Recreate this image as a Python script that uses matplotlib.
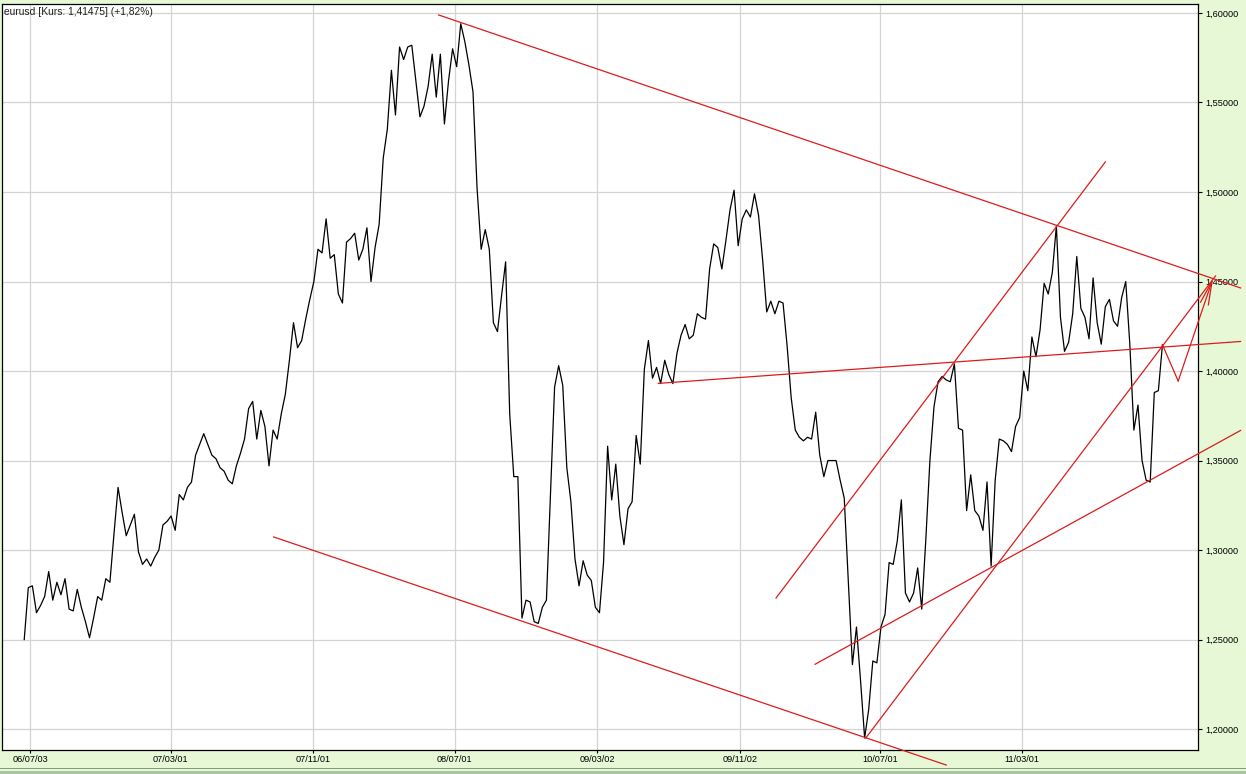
import matplotlib
matplotlib.use('Agg')
import matplotlib.pyplot as plt
import matplotlib.dates as mdates
from matplotlib.ticker import FuncFormatter
from matplotlib.patches import Rectangle
import pandas as pd

# weekly closes eurusd (fridays)
start_date = '2006-06-23'
closes = [
    1.250, 1.279, 1.280, 1.265, 1.269, 1.274, 1.288, 1.272, 1.282, 1.275,
    1.284, 1.267, 1.266, 1.278, 1.268, 1.260, 1.251, 1.262, 1.274, 1.272,
    1.284, 1.282, 1.309, 1.335, 1.321, 1.308, 1.314, 1.320, 1.299, 1.292,
    1.295, 1.291, 1.296, 1.300, 1.314, 1.316, 1.319, 1.311, 1.331, 1.328,
    1.335, 1.338, 1.353, 1.359, 1.365, 1.359, 1.353, 1.351, 1.346, 1.344,
    1.339, 1.337, 1.347, 1.354, 1.362, 1.379, 1.383, 1.362, 1.378, 1.369,
    1.347, 1.367, 1.362, 1.376, 1.387, 1.406, 1.427, 1.413, 1.417, 1.429,
    1.440, 1.450, 1.468, 1.466, 1.485, 1.463, 1.465, 1.443, 1.438, 1.472,
    1.474, 1.477, 1.462, 1.468, 1.480, 1.450, 1.469, 1.482, 1.519, 1.535,
    1.568, 1.543, 1.581, 1.574, 1.581, 1.582, 1.562, 1.542, 1.548, 1.559,
    1.577, 1.553, 1.577, 1.538, 1.562, 1.580, 1.570, 1.594, 1.584, 1.571,
    1.556, 1.502, 1.468, 1.479, 1.468, 1.427, 1.422, 1.442, 1.461, 1.376,
    1.341, 1.341, 1.262, 1.272, 1.271, 1.260, 1.259, 1.268, 1.272, 1.331,
    1.391, 1.403, 1.392, 1.346, 1.327, 1.295, 1.280, 1.294, 1.286, 1.283,
    1.268, 1.265, 1.293, 1.358, 1.328, 1.348, 1.319, 1.303, 1.323, 1.327,
    1.364, 1.348, 1.401, 1.417, 1.396, 1.402, 1.393, 1.406, 1.398, 1.393,
    1.410, 1.420, 1.426, 1.418, 1.420, 1.432, 1.430, 1.429, 1.457, 1.471,
    1.469, 1.457, 1.473, 1.490, 1.501, 1.470, 1.485, 1.490, 1.486, 1.499,
    1.487, 1.462, 1.433, 1.439, 1.432, 1.439, 1.438, 1.414, 1.385, 1.367,
    1.363, 1.361, 1.363, 1.362, 1.377, 1.353, 1.341, 1.350, 1.350, 1.350,
    1.339, 1.329, 1.283, 1.236, 1.257, 1.227, 1.195, 1.211, 1.238, 1.237,
    1.257, 1.264, 1.293, 1.292, 1.305, 1.328, 1.276, 1.271, 1.276, 1.290,
    1.267, 1.306, 1.350, 1.380, 1.394, 1.397, 1.395, 1.394, 1.404, 1.368,
    1.367, 1.322, 1.342, 1.322, 1.319, 1.311, 1.338, 1.291, 1.339, 1.362,
    1.361, 1.359, 1.355, 1.369, 1.374, 1.400, 1.389, 1.419, 1.408, 1.423,
    1.449, 1.443, 1.455, 1.481, 1.430, 1.411, 1.416, 1.432, 1.464, 1.435,
    1.430, 1.418, 1.452, 1.427, 1.415, 1.436, 1.440, 1.428, 1.425, 1.441,
    1.450, 1.415, 1.367, 1.381, 1.350, 1.339, 1.338, 1.388, 1.389, 1.41475,
]

# trend lines drawn on the chart: (date, price) -> (date, price)
trend_lines = [
    (('2008-06-03', 1.5989), ('2012-03-10', 1.4464)),
    (('2007-08-25', 1.3073), ('2010-10-22', 1.1799)),
    (('2009-06-15', 1.3931), ('2012-03-10', 1.4165)),
    (('2010-01-03', 1.2732), ('2011-07-22', 1.5168)),
    (('2010-06-06', 1.1950), ('2012-01-27', 1.4531)),
    (('2010-03-11', 1.2362), ('2012-03-10', 1.3668)),
]
# projected path: last close -> pullback -> target (arrow)
projection = [('2011-10-28', 1.4147), ('2011-11-24', 1.3944), ('2012-01-23', 1.4520)]

x_ticks = ['2006-07-03', '2007-03-01', '2007-11-01', '2008-07-01',
           '2009-03-02', '2009-11-02', '2010-07-01', '2011-03-01']
y_ticks = [1.20, 1.25, 1.30, 1.35, 1.40, 1.45, 1.50, 1.55, 1.60]

title = 'eurusd [Kurs: 1,41475] (+1,82%)'

BG = '#e6f8d6'
RED = '#dc1c1c'
W, H = 1246, 774

plt.rcParams['font.family'] = ['Liberation Sans', 'DejaVu Sans']

fig = plt.figure(figsize=(W / 100, H / 100), dpi=100, facecolor=BG)
ax = fig.add_axes([1.5 / W, 1 - 750 / H, (1198 - 1.5) / W, (750 - 3.5) / H])
ax.set_facecolor('white')

dates = pd.date_range(start_date, periods=len(closes), freq='7D')
ax.plot(dates, closes, color='black', lw=0.9, zorder=3)

for (d0, p0), (d1, p1) in trend_lines:
    ax.plot([pd.Timestamp(d0), pd.Timestamp(d1)], [p0, p1], color=RED, lw=0.9,
            clip_on=False, zorder=4)

proj_d = [pd.Timestamp(d) for d, _ in projection]
proj_p = [p for _, p in projection]
ax.plot(proj_d[:2], proj_p[:2], color=RED, lw=0.9, clip_on=False, zorder=4)
ax.annotate('', xy=(proj_d[2], proj_p[2]), xytext=(proj_d[1], proj_p[1]),
            arrowprops=dict(arrowstyle='->,head_length=1.7,head_width=0.3',
                            color=RED, lw=0.9, shrinkA=0, shrinkB=0),
            annotation_clip=False, zorder=4)

ax.set_xlim(pd.Timestamp('2006-05-15'), pd.Timestamp('2011-12-28'))
ax.set_ylim(1.1883, 1.6053)

ax.set_xticks([pd.Timestamp(d) for d in x_ticks])
ax.xaxis.set_major_formatter(mdates.DateFormatter('%y/%m/%d'))
ax.set_yticks(y_ticks)
ax.yaxis.set_major_formatter(FuncFormatter(lambda v, p: f'{v:.5f}'.replace('.', ',')))
ax.yaxis.tick_right()

ax.grid(True, color='#d4d4d4', lw=0.9, zorder=0)
ax.set_axisbelow(True)
ax.tick_params(axis='y', direction='out', length=3, width=0.8, pad=2, labelsize=6.6)
ax.tick_params(axis='x', direction='out', length=2, width=0.8, pad=1.5, labelsize=6.6)
for s in ax.spines.values():
    s.set_color('black')
    s.set_linewidth(0.9)

fig.text(4 / W, 1 - 12 / H, title, fontsize=7.4, va='center', ha='left', color='#222222')

# window chrome at the bottom
fig.patches.append(Rectangle((0, 0), 1, 3 / H, transform=fig.transFigure,
                             facecolor='#a8c4a0', edgecolor='none'))
fig.patches.append(Rectangle((0, 5 / H), 1, 1.5 / H, transform=fig.transFigure,
                             facecolor='#7f9c7c', edgecolor='none'))

fig.savefig('out.png', dpi=100, facecolor=BG)
